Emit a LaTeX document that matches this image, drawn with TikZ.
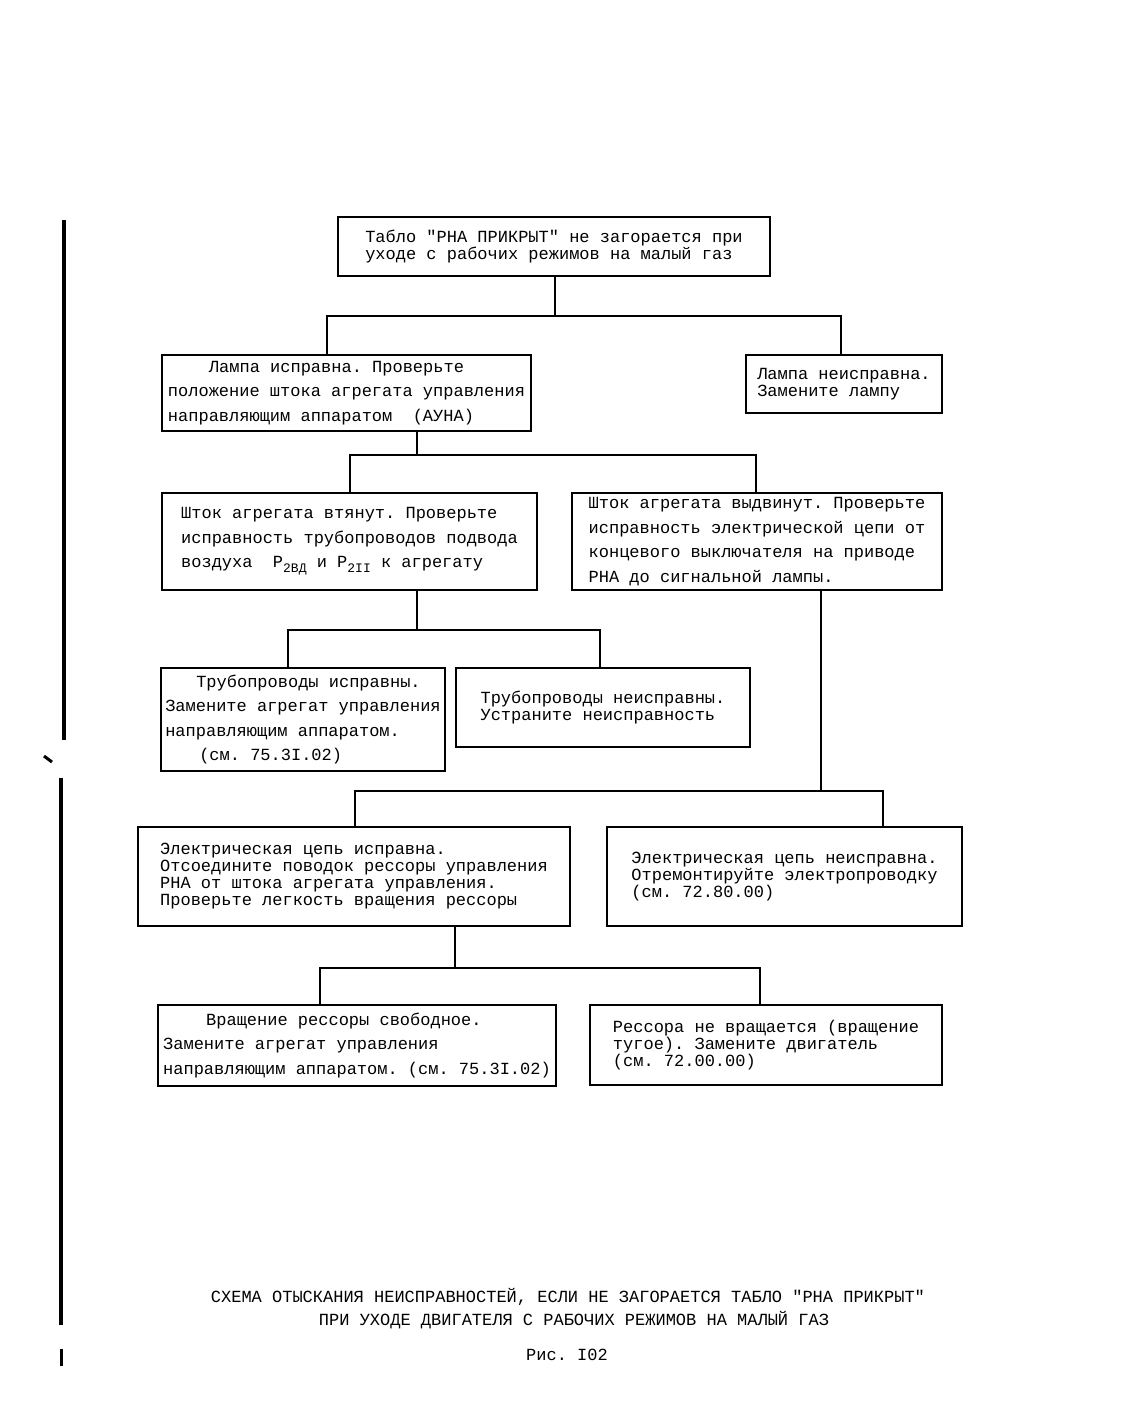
\documentclass[tikz,border=0pt]{standalone}
\usepackage{fontspec}
\setmonofont{Liberation Mono}
\usetikzlibrary{positioning, calc}
\newcommand*\lowidx[1]{\raisebox{-5pt}{\fontsize{13}{13}\selectfont#1}}

\begin{document}
\begin{tikzpicture}[x=1pt, y=-1pt,
    box/.style={draw, line width=2pt, inner sep=0pt, align=left, font=\ttfamily\fontsize{17}{17}\selectfont},
    loose/.style={font=\ttfamily\fontsize{17}{24.6}\selectfont},
    wire/.style={line width=1.8pt},
    caption/.style={font=\ttfamily\fontsize{17}{17}\selectfont}]

\useasboundingbox (0,0) rectangle (1124,1404);

% the boxes of the chart
\node[box, minimum width=432, minimum height=59] (tablo) at (554,246.5)
    {Табло "РНА ПРИКРЫТ" не загорается при\\уходе с рабочих режимов на малый газ};
\node[box, loose, minimum width=369, minimum height=76] (lampok) at (346.5,393)
    {\hspace*{41pt}Лампа исправна. Проверьте\\положение штока агрегата управления\\направляющим аппаратом~~(АУНА)};
\node[box, minimum width=196, minimum height=58] (lampbad) at (844,384)
    {Лампа неисправна.\\Замените лампу};
\node[box, loose, minimum width=375, minimum height=97] (shtokin) at (349.5,541.5)
    {Шток агрегата втянут. Проверьте\\исправность трубопроводов подвода\\воздуха~~Р\lowidx{2ВД} и Р\lowidx{2II} к агрегату};
\node[box, loose, minimum width=370, minimum height=97] (shtokout) at (757,541.5)
    {Шток агрегата выдвинут. Проверьте\\исправность электрической цепи от\\концевого выключателя на приводе\\РНА до сигнальной лампы.};
\node[box, loose, minimum width=284, minimum height=103] (pipeok) at (303,719.5)
    {\hspace*{31pt}Трубопроводы исправны.\\Замените агрегат управления\\направляющим аппаратом.\\\hspace*{34pt}(см. 75.3I.02)};
\node[box, minimum width=294, minimum height=79] (pipebad) at (603,707.5)
    {Трубопроводы неисправны.\\Устраните неисправность};
\node[box, minimum width=432, minimum height=99] (elok) at (354,876.5)
    {Электрическая цепь исправна.\\Отсоедините поводок рессоры управления\\РНА от штока агрегата управления.\\Проверьте легкость вращения рессоры};
\node[box, minimum width=355, minimum height=99] (elbad) at (784.5,876.5)
    {Электрическая цепь неисправна.\\Отремонтируйте электропроводку\\(см. 72.80.00)};
\node[box, loose, minimum width=398, minimum height=81] (rotfree) at (357,1045.5)
    {\hspace*{43pt}Вращение рессоры свободное.\\Замените агрегат управления\\направляющим аппаратом. (см. 75.3I.02)};
\node[box, minimum width=352, minimum height=80] (rotstuck) at (766,1045)
    {Рессора не вращается (вращение\\тугое). Замените двигатель\\(см. 72.00.00)};

% branches
\coordinate (j1) at (555,316);
\coordinate (j1a) at (327,316);
\coordinate (j1b) at (841,316);
\draw[wire] (tablo.south -| j1) -- (j1);
\draw[wire] (lampok.north -| j1a) -- (j1a) -- (j1b) -- (lampbad.north -| j1b);

\coordinate (j2) at (417,455);
\coordinate (j2a) at (350,455);
\coordinate (j2b) at (756,455);
\draw[wire] (lampok.south -| j2) -- (j2);
\draw[wire] (shtokin.north -| j2a) -- (j2a) -- (j2b) -- (shtokout.north -| j2b);

\coordinate (j3) at (417,630);
\coordinate (j3a) at (288,630);
\coordinate (j3b) at (600,630);
\draw[wire] (shtokin.south -| j3) -- (j3);
\draw[wire] (pipeok.north -| j3a) -- (j3a) -- (j3b) -- (pipebad.north -| j3b);

\coordinate (j4) at (821,791);
\coordinate (j4a) at (355,791);
\coordinate (j4b) at (883,791);
\draw[wire] (shtokout.south -| j4) -- (j4);
\draw[wire] (elok.north -| j4a) -- (j4a) -- (j4b) -- (elbad.north -| j4b);

\coordinate (j5) at (455,968);
\coordinate (j5a) at (320,968);
\coordinate (j5b) at (760,968);
\draw[wire] (elok.south -| j5) -- (j5);
\draw[wire] (rotfree.north -| j5a) -- (j5a) -- (j5b) -- (rotstuck.north -| j5b);

% caption
\node[caption] (capA) at (568,1297) {СХЕМА ОТЫСКАНИЯ НЕИСПРАВНОСТЕЙ, ЕСЛИ НЕ ЗАГОРАЕТСЯ ТАБЛО "РНА ПРИКРЫТ"};
\node[caption] (capB) at (574,1320) {ПРИ УХОДЕ ДВИГАТЕЛЯ С РАБОЧИХ РЕЖИМОВ НА МАЛЫЙ ГАЗ};
\node[caption] (fig) at (567,1355) {Рис. I02};

% margin bar of the page
\draw[line width=3.5pt] (64,220) -- (64,740);
\draw[line width=3.5pt] (61,778) -- (61,1325);
\draw[line width=3pt] (44,756) -- (52,762);
\draw[line width=3pt] (61,1349) -- (61,1366);

\end{tikzpicture}
\end{document}
